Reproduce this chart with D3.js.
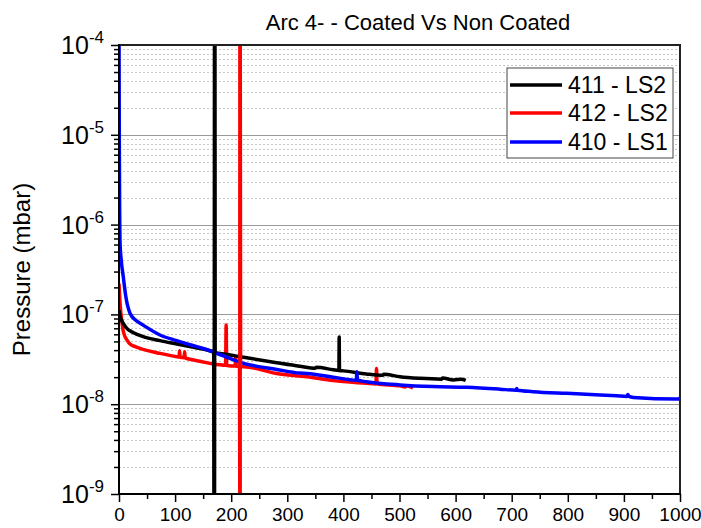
<!DOCTYPE html>
<html>
<head>
<meta charset="utf-8">
<script src="https://cdn.jsdelivr.net/npm/d3@7"></script>
<style>
  html, body { margin: 0; padding: 0; background: #fff; }
  svg { display: block; font-family: "Liberation Sans", Arial, sans-serif; }
</style>
</head>
<body>
<svg id="chart" width="701" height="528"></svg>
<script>
// ---- data ----
const titleText = "Arc 4- - Coated Vs Non Coated";
const yLabelText = "Pressure (mbar)";
const xTicks = [0, 100, 200, 300, 400, 500, 600, 700, 800, 900, 1000];
const yExponents = [-4, -5, -6, -7, -8, -9];
const seriesNames = ["411 - LS2", "412 - LS2", "410 - LS1"];
const seriesColors = ["#000000", "#ff0000", "#0000ff"];

const black411X = [0, 2, 5, 9, 14, 25, 43, 73, 103, 133, 162, 169, 170, 170.5, 171, 190, 222, 281, 322, 350, 352, 382, 392, 392.5, 393, 400, 441, 470, 472, 501, 536, 575, 577, 596, 610, 618];
const black411Y = [1.12e-7, 9.5e-8, 8.5e-8, 7.7e-8, 7.0e-8, 6.3e-8, 5.65e-8, 5.1e-8, 4.68e-8, 4.3e-8, 3.94e-8, 3.8e-8, 1e-10, 1e-3, 3.75e-8, 3.6e-8, 3.33e-8, 2.9e-8, 2.65e-8, 2.52e-8, 2.58e-8, 2.42e-8, 2.38e-8, 5.6e-8, 2.37e-8, 2.35e-8, 2.17e-8, 2.1e-8, 2.16e-8, 2.02e-8, 1.94e-8, 1.9e-8, 1.96e-8, 1.86e-8, 1.9e-8, 1.84e-8];

const red412X = [0, 2, 4.7, 7, 10.7, 15, 19.6, 30, 43, 73, 103, 107, 108, 109, 116, 117, 118, 133, 162, 190, 191, 192, 207, 208, 209, 215, 215.5, 216, 216.5, 222, 281, 335, 382, 441, 458, 459, 460, 501, 510, 512, 524];
const red412Y = [2.2e-7, 1.3e-7, 8.7e-8, 6.8e-8, 5.65e-8, 5.1e-8, 4.68e-8, 4.35e-8, 4.08e-8, 3.68e-8, 3.38e-8, 3.35e-8, 3.94e-8, 3.33e-8, 3.3e-8, 3.85e-8, 3.28e-8, 3.1e-8, 2.85e-8, 2.72e-8, 7.6e-8, 2.7e-8, 2.66e-8, 3.38e-8, 2.65e-8, 2.63e-8, 1e-10, 1e-3, 2.62e-8, 2.62e-8, 2.2e-8, 2.02e-8, 1.83e-8, 1.71e-8, 1.68e-8, 2.5e-8, 1.68e-8, 1.6e-8, 1.55e-8, 1.6e-8, 1.52e-8];

const blue410X = [0, 0.5, 1, 2, 4, 7.7, 12, 19.6, 30, 43, 73, 103, 162, 222, 281, 322, 335, 382, 423, 424, 425, 441, 501, 560, 620, 679, 708, 709, 710, 738, 798, 858, 887, 905, 907, 909, 917, 994, 999, 1000];
const blue410Y = [2e-4, 1e-5, 2e-6, 6e-7, 4e-7, 2.6e-7, 1.6e-7, 1.03e-7, 8.6e-8, 7.6e-8, 5.9e-8, 5.1e-8, 3.94e-8, 2.85e-8, 2.44e-8, 2.22e-8, 2.2e-8, 2.0e-8, 1.85e-8, 2.3e-8, 1.85e-8, 1.78e-8, 1.64e-8, 1.57e-8, 1.54e-8, 1.47e-8, 1.43e-8, 1.5e-8, 1.43e-8, 1.38e-8, 1.32e-8, 1.27e-8, 1.24e-8, 1.22e-8, 1.28e-8, 1.22e-8, 1.19e-8, 1.14e-8, 1.14e-8, 1.2e-8];

const seriesX = [black411X, red412X, blue410X];
const seriesY = [black411Y, red412Y, blue410Y];

// ---- layout ----
const L = 119, R = 680, T = 45, B = 494;
const svg = d3.select("#chart");

const x = d3.scaleLinear().domain([0, 1000]).range([L, R]);
const y = d3.scaleLog().domain([1e-9, 1e-4]).range([B, T]);

const majors = yExponents.map(e => Math.pow(10, e));
const minors = [];
for (let e = -9; e < -4; e++) for (let m = 2; m <= 9; m++) minors.push(m * Math.pow(10, e));

// minor gridlines
svg.append("g").selectAll("line").data(minors).join("line")
  .attr("x1", L).attr("x2", R)
  .attr("y1", d => Math.round(y(d)) + 0.5).attr("y2", d => Math.round(y(d)) + 0.5)
  .attr("stroke", "#c8c8c8").attr("stroke-width", 1).attr("stroke-dasharray", "2,2");
// major gridlines
svg.append("g").selectAll("line").data(majors.filter(d => d > 1e-9 && d < 1e-4)).join("line")
  .attr("x1", L).attr("x2", R)
  .attr("y1", d => Math.round(y(d)) + 0.5).attr("y2", d => Math.round(y(d)) + 0.5)
  .attr("stroke", "#999").attr("stroke-width", 1);

// series
svg.append("clipPath").attr("id", "clip").append("rect")
  .attr("x", L).attr("y", T).attr("width", R - L).attr("height", B - T);
const line = d3.line().x(d => x(d[0])).y(d => y(d[1])).curve(d3.curveMonotoneX);
const plotG = svg.append("g").attr("clip-path", "url(#clip)");
const pts = i => seriesX[i].map((v, k) => [v, seriesY[i][k]]);
[1, 0, 2].forEach(i => {
  plotG.append("path").datum(pts(i)).attr("d", line)
    .attr("fill", "none").attr("stroke", seriesColors[i])
    .attr("stroke-width", 3.5).attr("stroke-linejoin", "round");
});
// spikes drawn on top as in the reference
plotG.append("path").datum(pts(0).slice(11, 15)).attr("d", line.curve(d3.curveLinear))
  .attr("fill", "none").attr("stroke", seriesColors[0]).attr("stroke-width", 3.5);
plotG.append("path").datum(pts(1).slice(25, 29)).attr("d", line.curve(d3.curveLinear))
  .attr("fill", "none").attr("stroke", seriesColors[1]).attr("stroke-width", 3.5);

// frame (top & right)
svg.append("line").attr("x1", L).attr("x2", R + 1).attr("y1", T).attr("y2", T)
  .attr("stroke", "#222").attr("stroke-width", 2);
svg.append("line").attr("x1", R).attr("x2", R).attr("y1", T).attr("y2", B)
  .attr("stroke", "#222").attr("stroke-width", 2);

// x axis
const xAxisG = svg.append("g").attr("transform", `translate(0,${B})`);
xAxisG.call(d3.axisBottom(x).tickValues(xTicks).tickSize(8).tickPadding(6).tickFormat(d3.format("d")));
const xMinor = svg.append("g").attr("transform", `translate(0,${B})`)
  .call(d3.axisBottom(x).tickValues(d3.range(50, 1000, 100)).tickSize(5).tickFormat(""));
xMinor.select(".domain").remove();
xAxisG.select(".domain").attr("stroke", "#000").attr("stroke-width", 2).attr("d", `M${L},0H${R + 1}`);
xAxisG.selectAll(".tick line").attr("stroke-width", 1.5);
xMinor.selectAll(".tick line").attr("stroke-width", 1.5);
xAxisG.selectAll(".tick text").attr("font-size", 19).attr("fill", "#000")
  .attr("font-family", '"Liberation Sans", Arial, sans-serif');

// y axis
const yAxisG = svg.append("g").attr("transform", `translate(${L},0)`);
yAxisG.call(d3.axisLeft(y).tickValues(majors).tickSize(8).tickFormat(""));
yAxisG.select(".domain").attr("stroke", "#000").attr("stroke-width", 2).attr("d", `M0,${B + 1}V${T - 1}`);
yAxisG.selectAll(".tick line").attr("stroke-width", 1.5);
const yMinor = svg.append("g").attr("transform", `translate(${L},0)`)
  .call(d3.axisLeft(y).tickValues(minors).tickSize(5).tickFormat(""));
yMinor.select(".domain").remove();
yMinor.selectAll(".tick line").attr("stroke-width", 1.5);

// y tick labels with superscripts
const yl = svg.append("g");
yExponents.forEach(e => {
  const t = yl.append("text").attr("x", 104).attr("y", y(Math.pow(10, e)) + 9)
    .attr("text-anchor", "end").attr("font-size", 25).attr("fill", "#000");
  t.append("tspan").text("10");
  t.append("tspan").attr("font-size", 17).attr("dy", -11).text(String(e));
});

// title
svg.append("text").attr("x", 418).attr("y", 30).attr("text-anchor", "middle")
  .attr("font-size", 22).attr("fill", "#000").text(titleText);

// y label
svg.append("text").attr("transform", `translate(30,${(T + B) / 2}) rotate(-90)`)
  .attr("text-anchor", "middle").attr("font-size", 24).attr("fill", "#000").text(yLabelText);

// legend
const lg = svg.append("g");
lg.append("rect").attr("x", 507).attr("y", 68).attr("width", 166).attr("height", 90)
  .attr("fill", "#fff").attr("stroke", "#444").attr("stroke-width", 1);
const rowY = [85, 113, 142];
seriesNames.forEach((n, i) => {
  lg.append("line").attr("x1", 510).attr("x2", 562).attr("y1", rowY[i]).attr("y2", rowY[i])
    .attr("stroke", seriesColors[i]).attr("stroke-width", 3.5);
  lg.append("text").attr("x", 568).attr("y", rowY[i] + 8).attr("font-size", 23)
    .attr("fill", "#000").text(n);
});
</script>
</body>
</html>
